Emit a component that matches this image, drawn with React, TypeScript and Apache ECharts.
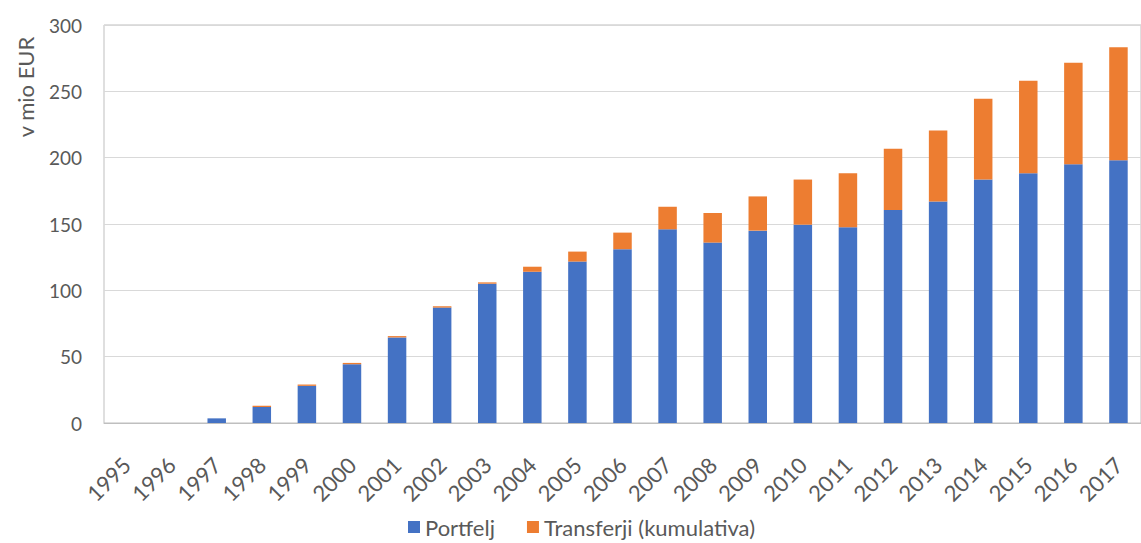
import React, { useEffect, useRef } from "react";
import * as echarts from "echarts";

const years = ["1995","1996","1997","1998","1999","2000","2001","2002","2003","2004","2005","2006","2007","2008","2009","2010","2011","2012","2013","2014","2015","2016","2017"];
const portfelj = [0, 0, 3.5, 12, 28, 44.3, 64.5, 87, 105, 114, 121.7, 131, 146, 136, 145, 149.5, 147.5, 160.5, 167, 183.5, 188.3, 195, 198];
const transferji = [0, 0, 0, 1, 1, 1, 1, 1, 1, 3.8, 7.5, 12.5, 17, 22.3, 25.8, 34, 40.8, 46.2, 53.4, 61, 69.7, 76.6, 85.2];
const yTicks = { min: 0, max: 300, interval: 50 };

const FONT = "Lato, 'Open Sans', sans-serif";
const TXT = "#595959";

export default function App() {
  const ref = useRef<HTMLDivElement>(null);
  useEffect(() => {
    if (!ref.current) return;
    const chart = echarts.init(ref.current, null, { renderer: "svg" });
    chart.setOption({
      animation: false,
      textStyle: { fontFamily: FONT },
      grid: {
        left: 104,
        top: 25,
        bottom: 120,
        right: -12,
        show: true,
        borderColor: "#bfbfbf",
        borderWidth: 1,
      },
      legend: {
        bottom: 0,
        left: 403,
        itemWidth: 12,
        itemHeight: 12,
        itemGap: 32,
        icon: "rect",
        textStyle: { fontSize: 22, color: TXT, fontFamily: FONT },
        data: ["Portfelj", "Transferji (kumulativa)"],
      },
      graphic: [
        {
          type: "text",
          x: 25,
          y: 87,
          rotation: Math.PI / 2,
          style: {
            text: "v mio EUR",
            fontSize: 22,
            fontFamily: FONT,
            fill: TXT,
            align: "center",
            verticalAlign: "middle",
          },
        },
      ],
      xAxis: {
        type: "category",
        data: years,
        axisTick: { show: false },
        axisLine: { lineStyle: { color: "#bfbfbf" } },
        axisLabel: { rotate: 45, fontSize: 22, color: TXT, margin: 38, interval: 0, fontFamily: FONT },
      },
      yAxis: {
        type: "value",
        min: yTicks.min,
        max: yTicks.max,
        interval: yTicks.interval,
        axisLine: { show: false },
        axisTick: { show: false },
        splitLine: { lineStyle: { color: "#d9d9d9", width: 1 } },
        axisLabel: { fontSize: 19, color: TXT, margin: 22, fontFamily: FONT },
      },
      series: [
        {
          name: "Portfelj",
          type: "bar",
          stack: "total",
          data: portfelj,
          barWidth: "41%",
          itemStyle: { color: "#4472C4" },
        },
        {
          name: "Transferji (kumulativa)",
          type: "bar",
          stack: "total",
          data: transferji,
          barWidth: "41%",
          itemStyle: { color: "#ED7D31" },
        },
      ],
    });
    return () => chart.dispose();
  }, []);
  return (
    <div
      ref={ref}
      style={{ position: "absolute", left: 0, top: 0, width: 1141, height: 543, background: "#fff" }}
    />
  );
}
